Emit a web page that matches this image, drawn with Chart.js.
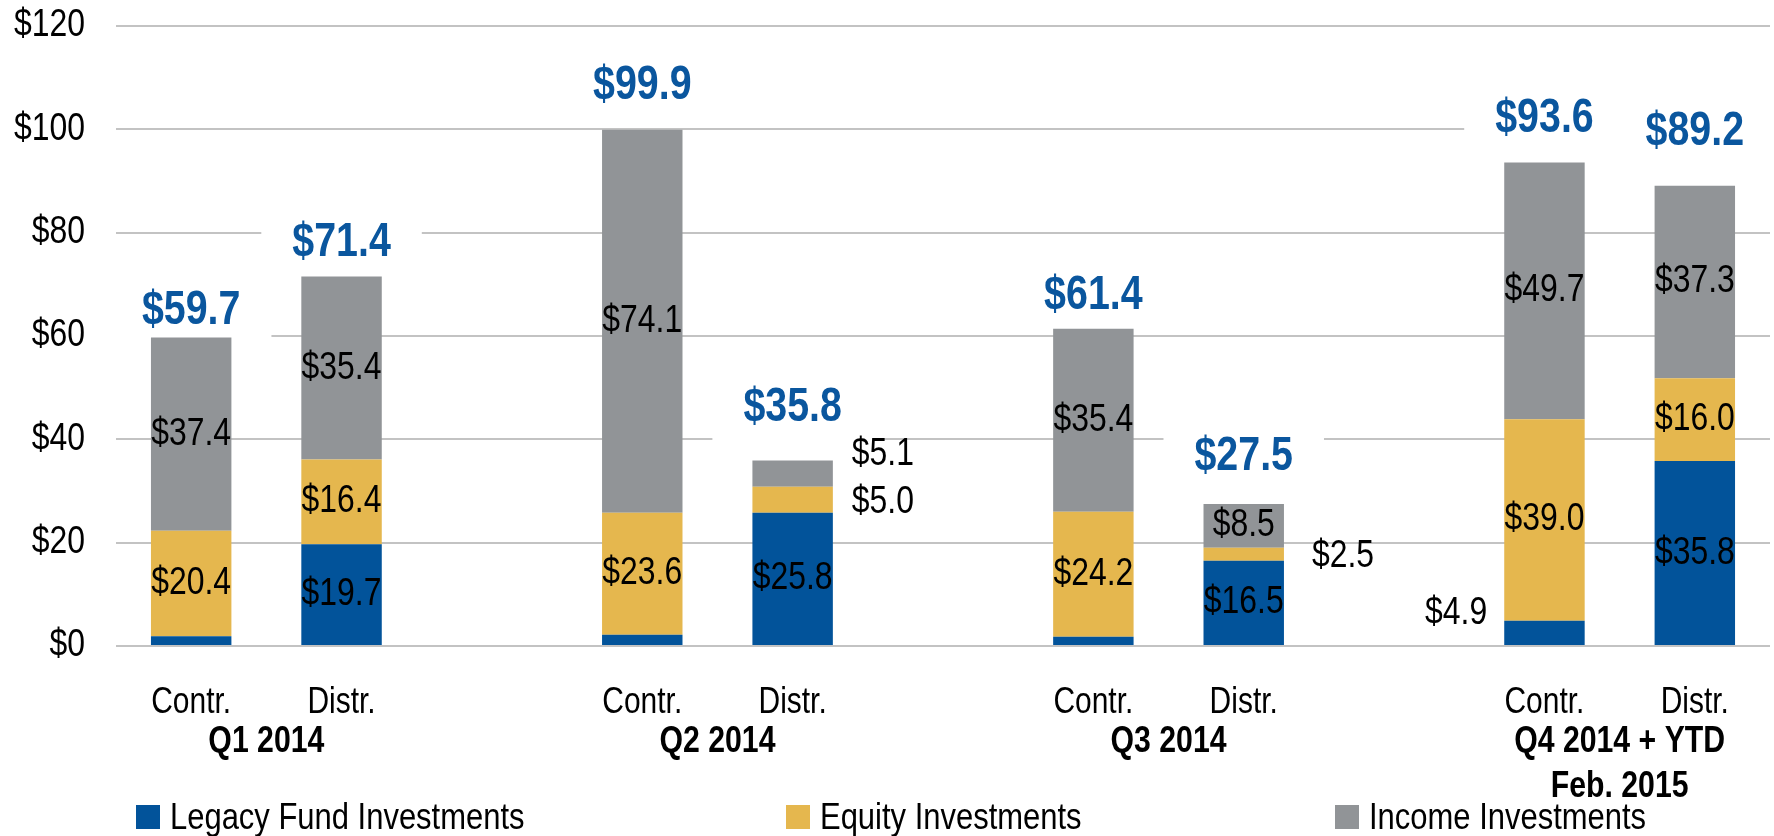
<!DOCTYPE html>
<html>
<head>
<meta charset="utf-8">
<script src="https://cdn.jsdelivr.net/npm/chart.js@4/dist/chart.umd.min.js"></script>
<style>
  html, body { margin: 0; padding: 0; background: #ffffff; }
  #wrap { width: 1774px; height: 836px; }
</style>
</head>
<body>
<div id="wrap"><canvas id="c" width="1774" height="836"></canvas></div>
<script>
// ---------------- data ----------------
const groupLabels = [["Q1 2014"], ["Q2 2014"], ["Q3 2014"], ["Q4 2014 + YTD", "Feb. 2015"]];
const barLabels = ["Contr.", "Distr."];
const seriesNames = ["Legacy Fund Investments", "Equity Investments", "Income Investments"];
const legacy = [1.9, 19.7, 2.2, 25.8, 1.8, 16.5, 4.9, 35.8];
const equity = [20.4, 16.4, 23.6, 5.0, 24.2, 2.5, 39.0, 16.0];
const income = [37.4, 35.4, 74.1, 5.1, 35.4, 8.5, 49.7, 37.3];
const totals = [59.7, 71.4, 99.9, 35.8, 61.4, 27.5, 93.6, 89.2];
const yTickValues = [0, 20, 40, 60, 80, 100, 120];

// ---------------- styles ----------------
const COLORS = ['#02539a', '#e5b74e', '#919497'];
const TOTAL_COLOR = '#0a569e';
const FONT = '"Liberation Sans", Arial, sans-serif';
// where each segment's value label sits: in / left / right / none
const labelPlace = [
  ['none', 'in', 'none', 'in', 'none', 'in', 'left', 'in'],
  ['in', 'in', 'in', 'right', 'in', 'right', 'in', 'in'],
  ['in', 'in', 'in', 'right', 'in', 'in', 'in', 'in']
];
const labelShiftY = [
  [0, 0, 0, 0, 0, 0, -19, 0],
  [0, 0, 0, 3, 0, 2, 0, 0],
  [0, 0, 0, -19, 0, 0, 0, 0]
];
const sideGap = [ [0,0,0,0,0,0,17,0], [0,0,0,19,0,28,0,0], [0,0,0,19,0,0,0,0] ];
const totalLift = [27, 34, 44, 53, 33, 47, 44, 53];
const legendX = [136, 786, 1335];

const F_VAL = { font: '38px ' + FONT, sx: 0.84 };
const F_TICK = { font: '38px ' + FONT, sx: 0.84 };
const F_CAT = { font: '37px ' + FONT, sx: 0.81 };
const F_LEG = { font: '36px ' + FONT, sx: 0.86 };
const F_TOTAL = { font: 'bold 48px ' + FONT, sx: 0.82 };
const F_GROUP = { font: 'bold 36px ' + FONT, sx: 0.84 };

// ---------------- slot mapping (gap slot between quarters) ----------------
const slotLabels = [];
const slotOf = [];
groupLabels.forEach((g, gi) => {
  if (gi > 0) slotLabels.push('');
  barLabels.forEach(b => { slotOf.push(slotLabels.length); slotLabels.push(b); });
});
function toSlots(arr) {
  const out = slotLabels.map(() => null);
  arr.forEach((v, i) => { out[slotOf[i]] = v; });
  return out;
}
const series = [legacy, equity, income];
const fmt = v => '$' + v.toFixed(1);

function drawText(ctx, str, x, y, f, color, align, baseline) {
  ctx.save();
  ctx.font = f.font;
  ctx.fillStyle = color;
  ctx.textAlign = align;
  ctx.textBaseline = baseline;
  ctx.translate(x, y);
  ctx.scale(f.sx, 1);
  ctx.fillText(str, 0, 0);
  ctx.restore();
}
function textWidth(ctx, str, f) {
  ctx.save(); ctx.font = f.font; const w = ctx.measureText(str).width * f.sx; ctx.restore(); return w;
}

const labelsPlugin = {
  id: 'customLabels',
  beforeDatasetsDraw(chart) {
    // white boxes behind total labels (interrupt grid lines)
    const ctx = chart.ctx;
    const y = chart.scales.y;
    const top = chart.getDatasetMeta(2);
    totals.forEach((t, i) => {
      const bar = top.data[slotOf[i]];
      const cy = y.getPixelForValue(t) - totalLift[i];
      const w = textWidth(ctx, fmt(t), F_TOTAL) + 62;
      ctx.save();
      ctx.fillStyle = '#ffffff';
      ctx.fillRect(bar.x - w / 2, cy - 36, w, 72);
      ctx.restore();
    });
  },
  afterDatasetsDraw(chart) {
    const ctx = chart.ctx;
    const y = chart.scales.y;
    const area = chart.chartArea;
    // segment value labels
    series.forEach((arr, d) => {
      const meta = chart.getDatasetMeta(d);
      arr.forEach((v, i) => {
        const place = labelPlace[d][i];
        if (place === 'none') return;
        const bar = meta.data[slotOf[i]];
        const cy = (bar.y + bar.base) / 2 + labelShiftY[d][i];
        if (place === 'in') {
          drawText(ctx, fmt(v), bar.x, cy, F_VAL, '#000000', 'center', 'middle');
        } else if (place === 'right') {
          drawText(ctx, fmt(v), bar.x + bar.width / 2 + sideGap[d][i], cy, F_VAL, '#000000', 'left', 'middle');
        } else {
          drawText(ctx, fmt(v), bar.x - bar.width / 2 - sideGap[d][i], cy, F_VAL, '#000000', 'right', 'middle');
        }
      });
    });
    // totals
    const top = chart.getDatasetMeta(2);
    totals.forEach((t, i) => {
      const bar = top.data[slotOf[i]];
      const cy = y.getPixelForValue(t) - totalLift[i];
      drawText(ctx, fmt(t), bar.x, cy, F_TOTAL, TOTAL_COLOR, 'center', 'middle');
    });
    // y tick labels
    yTickValues.forEach(v => {
      drawText(ctx, '$' + v, area.left - 31, y.getPixelForValue(v), F_TICK, '#000000', 'right', 'middle');
    });
    // category labels
    const xs = chart.scales.x;
    slotOf.forEach((s, i) => {
      drawText(ctx, barLabels[i % 2], xs.getPixelForValue(s), 713, F_CAT, '#000000', 'center', 'alphabetic');
    });
    groupLabels.forEach((lines, gi) => {
      const cx = (xs.getPixelForValue(slotOf[gi * 2]) + xs.getPixelForValue(slotOf[gi * 2 + 1])) / 2;
      lines.forEach((ln, li) => {
        drawText(ctx, ln, cx, 752 + li * 45, F_GROUP, '#000000', 'center', 'alphabetic');
      });
    });
    // legend
    const box = 24, boxGap = 10;
    seriesNames.forEach((n, k) => {
      const lx = legendX[k];
      ctx.save();
      ctx.fillStyle = COLORS[k];
      ctx.fillRect(lx, 805, box, box);
      ctx.restore();
      drawText(ctx, n, lx + box + boxGap, 829, F_LEG, '#000000', 'left', 'alphabetic');
    });
  }
};

new Chart(document.getElementById('c'), {
  type: 'bar',
  data: {
    labels: slotLabels,
    datasets: series.map((arr, d) => ({
      label: seriesNames[d],
      data: toSlots(arr),
      backgroundColor: COLORS[d],
      borderWidth: 0,
      barPercentage: 0.535,
      categoryPercentage: 1.0
    }))
  },
  options: {
    responsive: false,
    animation: false,
    devicePixelRatio: 1,
    layout: { padding: { top: 26, right: 4, left: 0, bottom: 0 } },
    plugins: { legend: { display: false }, tooltip: { enabled: false } },
    scales: {
      x: {
        stacked: true,
        grid: { display: false },
        border: { display: false },
        ticks: { display: false },
        afterFit(s) { s.height = 190; }
      },
      y: {
        stacked: true,
        min: 0,
        max: 120,
        ticks: { display: false, stepSize: 20 },
        grid: { color: '#c3c3c3', lineWidth: 2, drawTicks: false },
        border: { display: false },
        afterFit(s) { s.width = 116; }
      }
    }
  },
  plugins: [labelsPlugin]
});
</script>
</body>
</html>
